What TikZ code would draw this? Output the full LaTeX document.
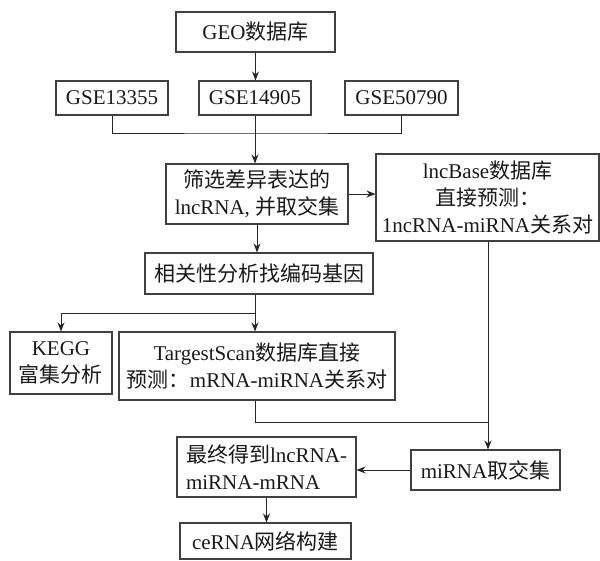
\documentclass[tikz,border=0pt]{standalone}
\usepackage{fontspec}
\setmainfont{Liberation Serif}
\newfontfamily\cjk{Noto Sans CJK SC}
\newcommand\zh[1]{{\cjk #1}}
\usetikzlibrary{arrows.meta}
\begin{document}
\begin{tikzpicture}[x=1pt,y=-1pt,
  box/.style={draw=black!75, line width=1.1pt, inner sep=0pt, align=center,
    font=\fontsize{21}{27}\selectfont, text=black!90},
  conn/.style={line width=1pt, draw=black!85},
  arr/.style={conn, -{Stealth[length=9pt,width=7pt]}}]
\useasboundingbox (0,0) rectangle (600,560);

\node[box, minimum width=159pt, minimum height=40pt] (geo) at (255.5,32) {GEO\zh{数据库}};
\node[box, minimum width=112pt, minimum height=34pt] (g1) at (112,98) {GSE13355};
\node[box, minimum width=112pt, minimum height=34pt] (g2) at (255,98) {GSE14905};
\node[box, minimum width=113pt, minimum height=34pt] (g3) at (401.5,98) {GSE50790};
\node[box, minimum width=182pt, minimum height=60pt] (screen) at (257,194)
  {\zh{筛选差异表达的}\\lncRNA, \zh{并取交集}};
\node[box, minimum width=223pt, minimum height=87pt] (lncbase) at (487.5,197.5)
  {lncBase\zh{数据库}\\\zh{直接预测：}\\1ncRNA-miRNA\zh{关系对}};
\node[box, minimum width=228pt, minimum height=41pt] (corr) at (259,273.5)
  {\zh{相关性分析找编码基因}};
\node[box, minimum width=102pt, minimum height=62pt] (kegg) at (61,363)
  {KEGG\\\zh{富集分析}};
\node[box, minimum width=276pt, minimum height=68pt] (ts) at (257,366)
  {TargestScan\zh{数据库直接}\\\zh{预测：}mRNA-miRNA\zh{关系对}};
\node[box, minimum width=179pt, minimum height=60pt, align=left] (final) at (266.5,467)
  {\zh{最终得到}lncRNA-\\miRNA-mRNA};
\node[box, minimum width=149pt, minimum height=40pt] (mirna) at (485.5,470)
  {miRNA\zh{取交集}};
\node[box, minimum width=171pt, minimum height=36pt] (cerna) at (265.5,541)
  {ceRNA\zh{网络构建}};

\coordinate (jn) at (255,133);
\coordinate (br) at (255,313);
\coordinate (mj) at (488,422);

\draw[arr] (geo.south) -- (geo.south |- g2.north);
\draw[conn] (g1.south) |- (jn) -| (g3.south);
\draw[arr] (g2.south) -- (g2.south |- screen.north);
\draw[arr] (screen.east) -- (lncbase.west |- screen.east);
\draw[arr] (screen.south) -- (screen.south |- corr.north);
\draw[conn] (corr.south -| br) -- (br);
\draw[arr] (br) -| (kegg.north);
\draw[arr] (br) -- (br |- ts.north);
\draw[conn] (ts.south -| br) |- (mj);
\draw[arr] (lncbase.south -| mj) -- (mj |- mirna.north);
\draw[arr] (mirna.west) -- (mirna.west -| final.east);
\draw[arr] (final.south) -- (final.south |- cerna.north);
\end{tikzpicture}
\end{document}
